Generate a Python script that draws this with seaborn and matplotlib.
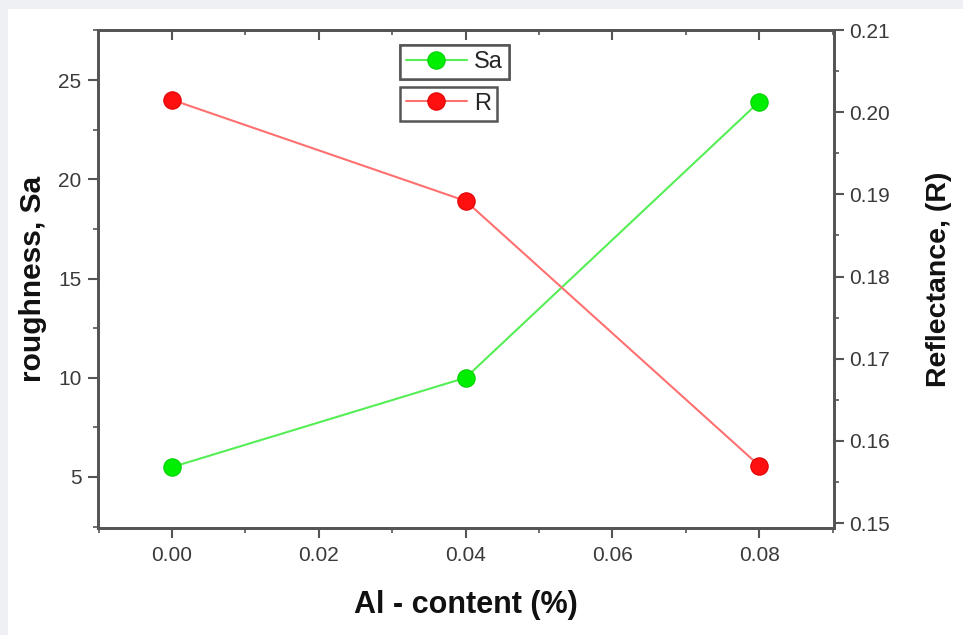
import matplotlib
matplotlib.use("Agg")
import matplotlib.pyplot as plt
from matplotlib.ticker import MultipleLocator
import seaborn as sns
import pandas as pd

# values
al_content = [0.00, 0.04, 0.08]
roughness_sa = [5.5, 10.0, 23.9]
reflectance_r = [0.2015, 0.1892, 0.157]

df = pd.DataFrame({"al": al_content, "Sa": roughness_sa, "R": reflectance_r})

sns.set_style("ticks")
plt.rcParams["font.family"] = ["Liberation Sans", "DejaVu Sans"]

fig = plt.figure(figsize=(9.63, 6.35), dpi=100)
fig.patch.set_facecolor("#eef0f3")
# white panel behind the chart
panel = fig.add_axes([8 / 963, 0, 1 - 8 / 963, 1 - 9 / 635])
panel.set_facecolor("white")
panel.set_xticks([])
panel.set_yticks([])
for s in panel.spines.values():
    s.set_visible(False)

ax = fig.add_axes([98 / 963, 1 - 528 / 635, (834 - 98) / 963, (528 - 30) / 635])
ax.patch.set_alpha(0)
ax2 = ax.twinx()

sns.lineplot(data=df, x="al", y="Sa", ax=ax, color="#55ee55", lw=1.5,
             marker="o", markersize=12.5, markeredgecolor="#00d000",
             markeredgewidth=0.8, markerfacecolor="#00ee00",
             label="Sa", legend=False)
sns.lineplot(data=df, x="al", y="R", ax=ax2, color="#ff7070", lw=1.5,
             marker="o", markersize=12.5, markeredgecolor="#e00000",
             markeredgewidth=0.8, markerfacecolor="#ff1010",
             label="R", legend=False)

ax.set_xlim(-0.0101, 0.0902)
ax.set_ylim(2.43, 27.52)
ax2.set_ylim(0.1494, 0.21)

ax.xaxis.set_major_locator(MultipleLocator(0.02))
ax.xaxis.set_minor_locator(MultipleLocator(0.01))
ax.yaxis.set_major_locator(MultipleLocator(5))
ax.yaxis.set_minor_locator(MultipleLocator(2.5))
ax2.yaxis.set_major_locator(MultipleLocator(0.01))
ax2.yaxis.set_minor_locator(MultipleLocator(0.005))
ax.xaxis.set_major_formatter(plt.FuncFormatter(lambda v, p: f"{v:.2f}"))
ax2.yaxis.set_major_formatter(plt.FuncFormatter(lambda v, p: f"{v:.2f}"))

edge = "#555555"
for a in (ax, ax2):
    for s in a.spines.values():
        s.set_visible(True)
        s.set_color(edge)
        s.set_linewidth(2)
    a.tick_params(which="major", length=7, width=1.5, colors=edge,
                  labelsize=15, labelcolor="#3a3a3a")
    a.tick_params(which="minor", length=3.5, width=1.2, colors=edge)
ax.tick_params(axis="x", which="major", pad=6)
ax.tick_params(axis="y", which="major", pad=5)
ax2.tick_params(axis="y", which="major", pad=4)
ax.tick_params(axis="x", which="both", top=True)
# top-axis mirror ticks point inward
for t in ax.xaxis.get_major_ticks() + ax.xaxis.get_minor_ticks():
    t.tick2line.set_marker(3)

ax.set_xlabel("Al - content (%)", fontsize=22, fontweight="bold",
              labelpad=18, color="#111111")
ax.set_ylabel("roughness, Sa", fontsize=21.5, fontweight="bold",
              labelpad=8, color="#111111")
ax2.set_ylabel("Reflectance, (R)", fontsize=20.5, fontweight="bold",
               labelpad=26, color="#111111")

# two separate legend boxes like the original
h1, l1 = ax.get_legend_handles_labels()
h2, l2 = ax2.get_legend_handles_labels()
leg_kw = dict(loc="upper left", fontsize=17, fancybox=False, edgecolor=edge,
              handlelength=2.6, borderpad=0.25, handletextpad=0.3,
              borderaxespad=0, framealpha=1)
leg1 = ax.legend(h1, l1, bbox_to_anchor=(0.410, 0.970), **leg_kw)
leg1.get_frame().set_linewidth(1.8)
leg1.set_zorder(10)
ax.add_artist(leg1)
leg2 = ax2.legend(h2, l2, bbox_to_anchor=(0.410, 0.886), **leg_kw)
leg2.get_frame().set_linewidth(1.8)

fig.savefig("out.png", dpi=100, facecolor=fig.get_facecolor())
